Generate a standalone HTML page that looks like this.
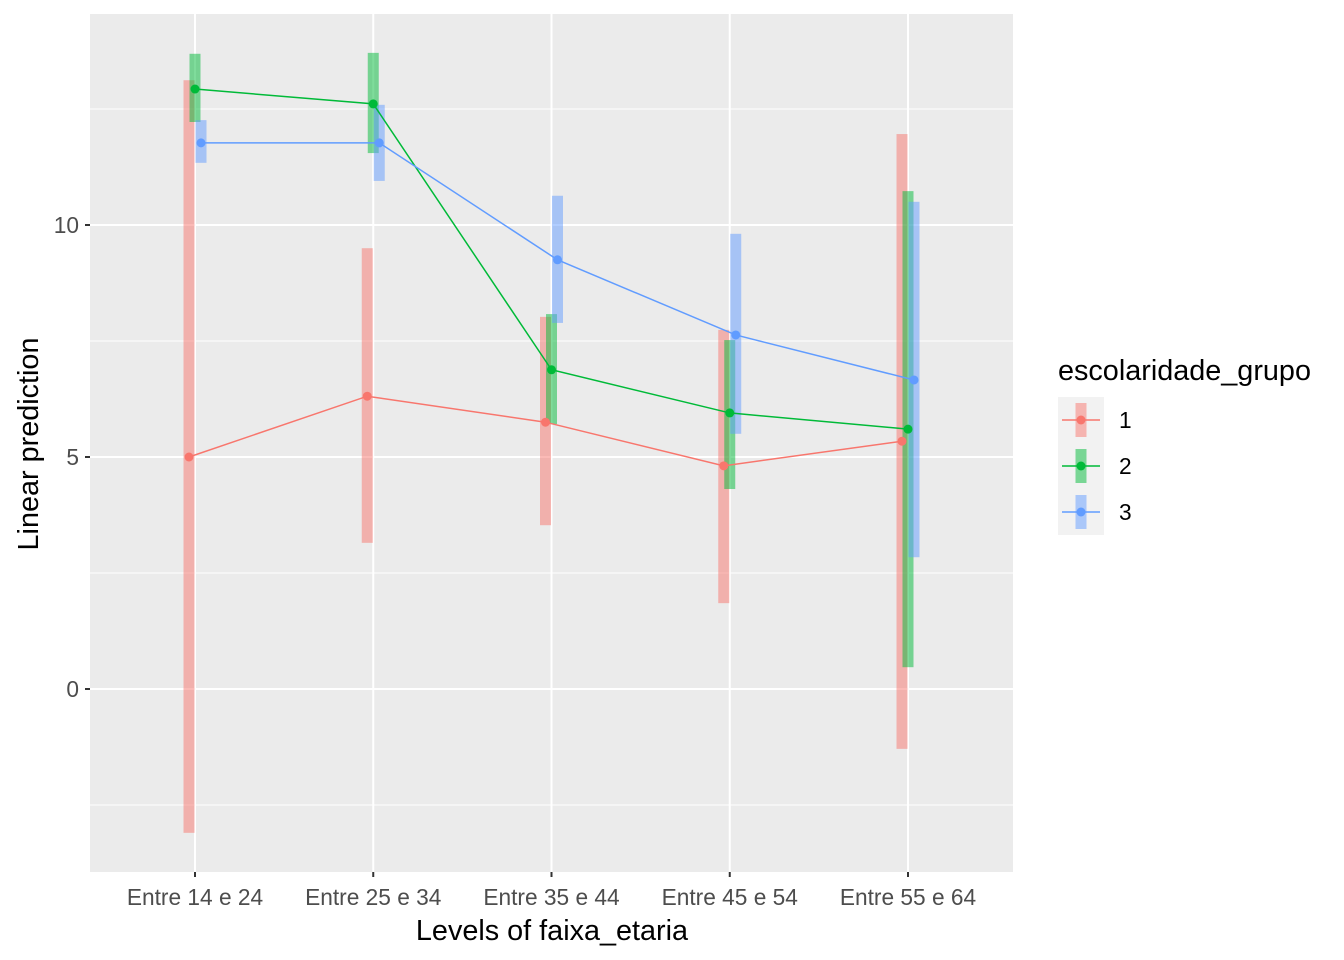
<!DOCTYPE html>
<html><head><meta charset="utf-8"><style>
body{margin:0;background:#fff}
svg{display:block;font-family:"Liberation Sans",Arial,sans-serif}
</style></head><body>
<svg id="chart" width="1344" height="960" xmlns="http://www.w3.org/2000/svg">
<rect width="1344" height="960" fill="#fff"/>
<rect x="90" y="14" width="923" height="858" fill="#EBEBEB"/>
<g id="grid"></g><g id="marks"></g><g id="axes"></g><g id="legend"></g>
<text x="552" y="940" text-anchor="middle" font-size="28.8" fill="#000">Levels of faixa_etaria</text>
<text transform="translate(38,444) rotate(-90)" text-anchor="middle" font-size="28.8" fill="#000">Linear prediction</text>
</svg>
<script>
const categories=["Entre 14 e 24","Entre 25 e 34","Entre 35 e 44","Entre 45 e 54","Entre 55 e 64"];
const groups=["1","2","3"];
const colors=["#F8766D","#00BA38","#619CFF"];
const est1=[5.0,6.31,5.75,4.81,5.34];
const lo1=[-3.10,3.15,3.53,1.85,-1.29];
const hi1=[13.12,9.5,8.02,7.74,11.96];
const est2=[12.93,12.61,6.88,5.95,5.60];
const lo2=[12.22,11.55,5.71,4.31,0.47];
const hi2=[13.69,13.71,8.08,7.52,10.73];
const est3=[11.77,11.77,9.25,7.63,6.66];
const lo3=[11.34,10.95,7.89,5.50,2.84];
const hi3=[12.26,12.59,10.63,9.81,10.50];
const yTicks=[0,5,10];
const yMinor=[-2.5,2.5,7.5,12.5];

const NS="http://www.w3.org/2000/svg";
const X0=90,X1=1013,Y0=14,Y1=872;
function xs(i){return 195+i*178.25;}
function ys(v){return 689-v*46.4;}
function mk(tag,attrs,parent){const e=document.createElementNS(NS,tag);for(const k in attrs)e.setAttribute(k,attrs[k]);parent.appendChild(e);return e;}
const grid=document.getElementById('grid'),marks=document.getElementById('marks'),axes=document.getElementById('axes'),legend=document.getElementById('legend');
yMinor.forEach(v=>{const l=mk('line',{x1:X0,x2:X1,y1:ys(v),y2:ys(v),stroke:'#fff','stroke-width':1},grid);

});
yTicks.forEach(v=>{const l=mk('line',{x1:X0,x2:X1,y1:ys(v),y2:ys(v),stroke:'#fff','stroke-width':2},grid);


const t=mk('line',{x1:85,x2:90,y1:ys(v),y2:ys(v),stroke:'#333','stroke-width':2},axes);


const tx=mk('text',{x:79,y:ys(v)+8,'text-anchor':'end','font-size':22.7,fill:'#4D4D4D'},axes);tx.textContent=v;

});
categories.forEach((c,i)=>{const l=mk('line',{x1:xs(i),x2:xs(i),y1:Y0,y2:Y1,stroke:'#fff','stroke-width':2},grid);


const t=mk('line',{x1:xs(i),x2:xs(i),y1:872,y2:877,stroke:'#333','stroke-width':2},axes);


const tx=mk('text',{x:xs(i),y:905,'text-anchor':'middle','font-size':22.7,fill:'#4D4D4D'},axes);tx.textContent=c;

});
const E=[est1,est2,est3],L=[lo1,lo2,lo3],H=[hi1,hi2,hi3],off=[-6,0,6];
for(let g=0;g<3;g++){
 for(let i=0;i<categories.length;i++){const r=mk('rect',{x:xs(i)+off[g]-5.5,y:ys(H[g][i]),width:11,height:ys(L[g][i])-ys(H[g][i]),fill:colors[g],'fill-opacity':0.5},marks);
 
 }
}
for(let g=0;g<3;g++){
 const pts=E[g].map((v,i)=>(xs(i)+off[g])+','+ys(v)).join(' ');
 const pl=mk('polyline',{points:pts,fill:'none',stroke:colors[g],'stroke-width':1.5},marks);
 
 
 E[g].forEach((v,i)=>{const c=mk('circle',{cx:xs(i)+off[g],cy:ys(v),r:4.5,fill:colors[g]},marks);
 
 });
}
const lt=mk('text',{x:1058,y:380,'font-size':28.8,fill:'#000'},legend);lt.textContent='escolaridade_grupo';


groups.forEach((g,k)=>{const cy=420+k*46;
 const bg=mk('rect',{x:1058,y:cy-23,width:46,height:46,fill:'#F2F2F2'},legend);
 
 
 mk('rect',{x:1075.5,y:cy-17,width:11,height:34,fill:colors[k],'fill-opacity':0.5},legend);
 mk('line',{x1:1062,x2:1100,y1:cy,y2:cy,stroke:colors[k],'stroke-width':1.5},legend);
 mk('circle',{cx:1081,cy:cy,r:4.5,fill:colors[k]},legend);
 const t=mk('text',{x:1119,y:cy+8,'font-size':22.7,fill:'#000'},legend);t.textContent=g;
 
 });
</script>
</body></html>
